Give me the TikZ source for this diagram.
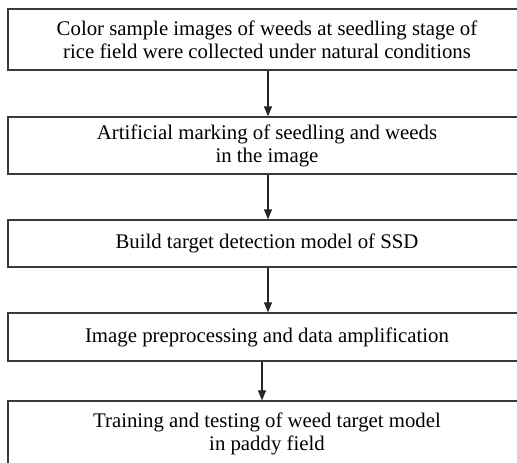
\documentclass[tikz,border=0pt]{standalone}
\usepackage{fontspec}
\setmainfont{Liberation Serif}
\usetikzlibrary{arrows.meta}
\definecolor{boxgray}{HTML}{3A3A3A}
\begin{document}
\begin{tikzpicture}[x=1pt,y=-1pt,
  box/.style={draw=boxgray, line width=1.3pt, minimum width=518pt, inner sep=0pt,
    align=center, font=\fontsize{20.8}{23}\selectfont},
  conn/.style={draw=black!85, line width=1.1pt, -{Triangle[length=10pt,width=8pt]}}]
\useasboundingbox (0,0) rectangle (517,463);
\clip (0,0) rectangle (517,463);
\node[box, minimum height=61pt] (b1) at (267,39.5)
  {Color sample images of weeds at seedling stage of\\rice field were collected under natural conditions};
\node[box, minimum height=57pt] (b2) at (267,145.5)
  {Artificial marking of seedling and weeds\\in the image};
\node[box, minimum height=47pt] (b3) at (267,243.5)
  {Build target detection model of SSD};
\node[box, minimum height=48pt] (b4) at (267,337)
  {Image preprocessing and data amplification};
\node[box, minimum height=65pt] (b5) at (267,433.5)
  {Training and testing of weed target model\\in paddy field};
\coordinate (a1) at (268,0);
\coordinate (a4) at (262,0);
\draw[conn] (b1.south -| a1) -- (b2.north -| a1);
\draw[conn] (b2.south -| a1) -- (b3.north -| a1);
\draw[conn] (b3.south -| a1) -- (b4.north -| a1);
\draw[conn] (b4.south -| a4) -- (b5.north -| a4);
\end{tikzpicture}
\end{document}
